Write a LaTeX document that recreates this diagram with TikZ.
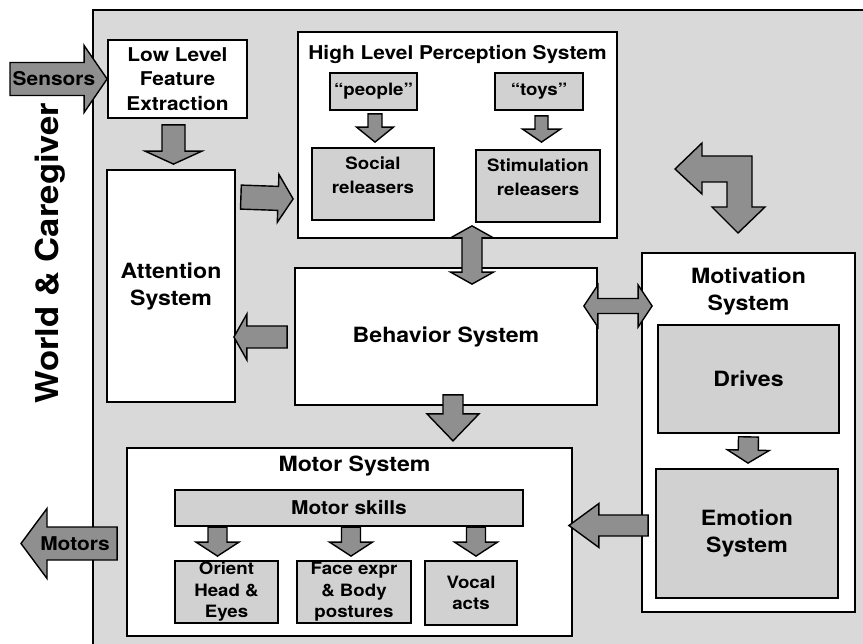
\documentclass[tikz,border=0pt]{standalone}
\usepackage{fontspec}
\setmainfont{TeX Gyre Heros}[FakeStretch=1.1]
\usepackage{tikz}
\usetikzlibrary{calc}

\definecolor{panelgray}{gray}{0.85}
\definecolor{boxgray}{gray}{0.82}
\definecolor{arrowgray}{gray}{0.56}

\newcommand{\bigtxt}{\fontsize{21}{27}\selectfont\bfseries}
\newcommand{\midtxt}{\fontsize{19}{24.5}\selectfont\bfseries}
\newcommand{\smalltxt}{\fontsize{17}{21.5}\selectfont\bfseries}

\tikzset{
  whitebox/.style={draw, line width=1.8pt, fill=white, inner sep=0pt, align=center},
  graybox/.style={draw, line width=1.8pt, fill=boxgray, inner sep=0pt, align=center},
  blockarrow/.style={draw, line width=1.4pt, fill=arrowgray, line join=miter},
}

% 太い矢印: #1=根元, #2=先端, #3=軸の半幅, #4=矢じりの半幅, #5=矢じりの長さ
\newcommand{\fatarrow}[5]{%
  \path ($(#2)!#5pt!(#1)$) coordinate (hb);
  \draw[blockarrow]
    ($(#1)!#3pt!90:(#2)$) -- ($(hb)!#3pt!90:(#2)$) -- ($(hb)!#4pt!90:(#2)$)
    -- (#2)
    -- ($(hb)!#4pt!-90:(#2)$) -- ($(hb)!#3pt!-90:(#2)$) -- ($(#1)!#3pt!-90:(#2)$)
    -- cycle;}
% 両向き
\newcommand{\dblarrow}[5]{%
  \path ($(#1)!#5pt!(#2)$) coordinate (ha) ($(#2)!#5pt!(#1)$) coordinate (hb);
  \draw[blockarrow]
    (#1) -- ($(ha)!#4pt!90:(#2)$) -- ($(ha)!#3pt!90:(#2)$)
    -- ($(hb)!#3pt!90:(#2)$) -- ($(hb)!#4pt!90:(#2)$)
    -- (#2)
    -- ($(hb)!#4pt!-90:(#2)$) -- ($(hb)!#3pt!-90:(#2)$)
    -- ($(ha)!#3pt!-90:(#2)$) -- ($(ha)!#4pt!-90:(#2)$)
    -- cycle;}

\begin{document}
\begin{tikzpicture}[x=1pt, y=-1pt]
  % 画像の画素 = 1pt, y は下向き
  \useasboundingbox (0,0) rectangle (863,644);
  \clip (0,0) rectangle (863,644);
  \fill[white] (0,0) rectangle (863,644);

  % 外枠
  \draw[line width=1.8pt, fill=panelgray] (93,10) rectangle (885,660);
  \node[rotate=90, font=\fontsize{31.5}{37}\selectfont\bfseries] (world) at (50,253) {World \& Caregiver};

  % 知覚
  \node[whitebox, minimum width=139pt, minimum height=78pt, font=\midtxt] (lfe) at (177.5,79) {Low Level\\Feature\\Extraction};
  \node[whitebox, minimum width=128pt, minimum height=232pt, font=\bigtxt] (att) at (171,286) {Attention\\System};
  \node[whitebox, minimum width=319pt, minimum height=206pt] (hlps) at (457.5,135) {};
  \node[anchor=base, font=\midtxt] (hlpsT) at ($(hlps.north)+(0,28)$) {High Level Perception System};
  \node[graybox, minimum width=87pt, minimum height=37pt, font=\smalltxt] (people) at (373.5,91.5) {``people''};
  \node[graybox, minimum width=88pt, minimum height=37pt, font=\smalltxt] (toys) at (539,91.5) {``toys''};
  \node[graybox, minimum width=122pt, minimum height=72pt] (social) at (373,184) {};
  \node[anchor=north, align=center, font=\smalltxt] (socialT) at ($(social.north)+(0,6)$) {Social\\[3pt]releasers};
  \node[graybox, minimum width=124pt, minimum height=72pt] (stim) at (538,186) {};
  \node[anchor=north, align=center, font=\smalltxt] (stimT) at ($(stim.north)+(0,6)$) {Stimulation\\[3pt]releasers};

  % 行動・動機
  \node[whitebox, minimum width=302pt, minimum height=137pt, font=\bigtxt] (beh) at (446,336.5) {Behavior System};
  \node[whitebox, minimum width=213pt, minimum height=359pt] (mot) at (748.5,432.5) {};
  \node[anchor=north, align=center, font=\bigtxt] (motT) at ($(mot.north)+(0,12)$) {Motivation\\System};
  \node[graybox, minimum width=181pt, minimum height=108pt, font=\bigtxt] (drives) at (748.5,379) {Drives};
  \node[graybox, minimum width=182pt, minimum height=129pt, font=\bigtxt] (emo) at (747,533.5) {Emotion\\System};

  % 運動
  \node[whitebox, minimum width=445pt, minimum height=188pt] (motor) at (349.5,542) {};
  \node[anchor=base, font=\bigtxt] (motorT) at ($(motor.north)+(5,24.5)$) {Motor System};
  \node[graybox, minimum width=348pt, minimum height=36pt, font=\midtxt] (skills) at (349,508) {Motor skills};
  \node[graybox, minimum width=103pt, minimum height=62pt, font=\smalltxt] (orient) at (226.5,592) {Orient\\Head \&\\Eyes};
  \node[graybox, minimum width=114pt, minimum height=62pt, font=\smalltxt] (face) at (354,592) {Face expr\\\& Body\\postures};
  \node[graybox, minimum width=92pt, minimum height=64pt, font=\smalltxt] (vocal) at (471,593) {Vocal\\acts};

  % 矢印
  \coordinate (sensT) at (10,79);
  \fatarrow{sensT}{lfe.west}{16.5}{33.5}{23}
  \node[font=\midtxt] (sens) at (54,79) {Sensors};

  \coordinate (a1) at ($(lfe.south)+(-4,6)$);
  \coordinate (b1) at ($(att.north)+(2.5,-5)$);
  \fatarrow{a1}{b1}{11.5}{28.5}{13}

  \coordinate (a2) at ($(att.north east)+(5,28)$);
  \coordinate (b2) at ($(hlps.south west)+(-4,-40)$);
  \fatarrow{a2}{b2}{12}{24}{15}

  \coordinate (a3) at ($(hlps.south)+(14.5,-13)$);
  \coordinate (b3) at ($(beh.north)+(26,17)$);
  \dblarrow{a3}{b3}{10}{21.5}{12}

  \coordinate (a4) at ($(beh.west)+(-7,0.5)$);
  \coordinate (b4) at ($(att.east)+(-2,51)$);
  \fatarrow{a4}{b4}{11}{23}{13}

  \coordinate (a5) at ($(beh.south)+(7,-11)$);
  \coordinate (b5) at ($(beh.south)+(7,35)$);
  \fatarrow{a5}{b5}{10}{26}{27}

  \coordinate (a6) at ($(beh.east)+(-14,-30.5)$);
  \coordinate (b6) at ($(mot.west)+(11,-126.5)$);
  \dblarrow{a6}{b6}{7.5}{21}{14}

  \coordinate (a7) at ($(drives.south)+(0,3)$);
  \coordinate (b7) at ($(emo.north)+(1,-5)$);
  \fatarrow{a7}{b7}{10}{21}{13}

  \coordinate (a8) at ($(mot.west)+(7,93)$);
  \coordinate (b8) at ($(motor.east)+(-4,-16.5)$);
  \fatarrow{a8}{b8}{10.5}{22}{30}

  \coordinate (a9) at ($(motor.west)+(-9,1.5)$);
  \coordinate (motorsT) at (21,543.5);
  \fatarrow{a9}{motorsT}{16.5}{35}{26}
  \node[font=\midtxt] (motors) at (75,543.5) {Motors};

  \coordinate (a10) at ($(people.south)+(1.5,3)$);
  \coordinate (b10) at ($(social.north)+(2,-5)$);
  \fatarrow{a10}{b10}{7}{18.5}{15}
  \coordinate (a11) at ($(toys.south)+(2.5,5)$);
  \coordinate (b11) at ($(stim.north)+(3.5,-7)$);
  \fatarrow{a11}{b11}{6.5}{19}{13}

  \foreach \b/\dx in {orient/-9, face/-3, vocal/5} {
    \coordinate (\b-a) at ($(\b.north)+(\dx,-33)$);
    \coordinate (\b-b) at ($(\b.north)+(\dx,-4)$);
    \fatarrow{\b-a}{\b-b}{9.5}{21.5}{14}
  }

  % 知覚と動機の間の折れ矢印
  \draw[blockarrow] (675,169) -- (702,143) -- (702,156) -- (752,156) -- (752,207)
    -- (765,207) -- (738,233) -- (712,207) -- (727,207) -- (727,182)
    -- (702,182) -- (702,194) -- cycle;
\end{tikzpicture}
\end{document}
